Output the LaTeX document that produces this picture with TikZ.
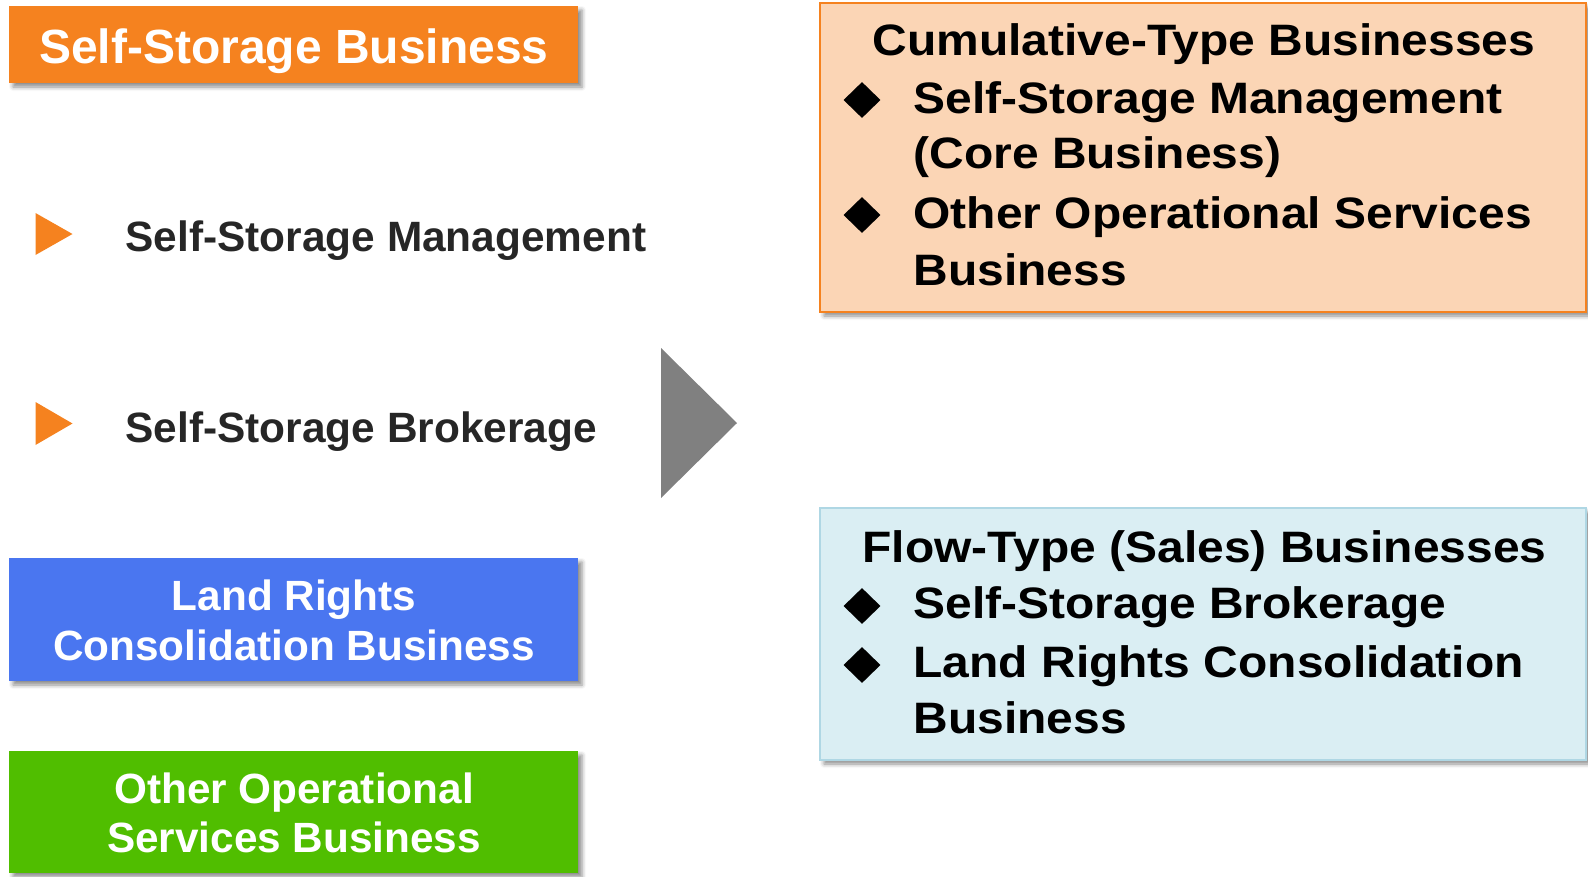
\documentclass[tikz,border=0pt]{standalone}
\usepackage{fontspec}
\setmainfont{Liberation Sans}
\newfontfamily\widefont{Liberation Sans}[FakeStretch=1.09]
\usetikzlibrary{shapes.geometric,shadows.blur}

\definecolor{segOrange}{RGB}{245,130,31}
\definecolor{segBlue}{RGB}{74,118,240}
\definecolor{segGreen}{RGB}{80,190,0}
\definecolor{peachFill}{RGB}{251,213,181}
\definecolor{iceFill}{RGB}{218,238,243}
\definecolor{iceLine}{RGB}{175,215,228}
\definecolor{darkText}{RGB}{38,38,38}
\definecolor{arrowGray}{RGB}{128,128,128}

\begin{document}
\begin{tikzpicture}[x=1pt,y=-1pt,
  shadowed/.style={blur shadow={shadow xshift=4pt,shadow yshift=-4pt,
      shadow blur radius=4pt,shadow opacity=45}},
  panel/.style={shadowed,anchor=north west,inner sep=0pt,outer sep=0pt},
  segtitle/.style={anchor=base,text=white,
      font=\bfseries\fontsize{42.3}{42.3}\selectfont},
  itemtext/.style={anchor=base west,text=darkText,
      font=\bfseries\fontsize{42.4}{42.4}\selectfont},
  groupline/.style={anchor=base west,text=black,
      font=\widefont\bfseries\fontsize{44}{44}\selectfont},
  bulletmark/.style={diamond,fill=black,inner sep=0pt,
      minimum width=37pt,minimum height=36pt}
]
\useasboundingbox (0,0) rectangle (1588,876);

% ---- business segments (left column)
\node[panel,fill=segOrange,minimum width=569pt,minimum height=77pt]
  (ssbox) at (9,6) {};
\node[anchor=base,text=white,font=\bfseries\fontsize{48}{48}\selectfont]
  (sstitle) at (294,63) {Self-Storage Business};

\fill[segOrange] (35.5,213) -- (72.5,234) -- (35.5,255) -- cycle;
\node[itemtext] (mgmt) at (122,251) {Self-Storage Management};
\fill[segOrange] (35.5,402) -- (72.5,423.5) -- (35.5,445) -- cycle;
\node[itemtext] (brok) at (122,442) {Self-Storage Brokerage};

\node[panel,fill=segBlue,minimum width=569pt,minimum height=123pt]
  (landbox) at (9,558) {};
\node[segtitle] (landA) at (294,610) {Land Rights};
\node[segtitle] (landB) at (294,660) {Consolidation Business};

\node[panel,fill=segGreen,minimum width=569pt,minimum height=122pt]
  (otherbox) at (9,751) {};
\node[segtitle] (otherA) at (294,803) {Other Operational};
\node[segtitle] (otherB) at (294,852) {Services Business};

% ---- big grey arrow head
\fill[arrowGray] (661,348) -- (737,423) -- (661,498) -- cycle;

% ---- cumulative-type group
\node[panel,fill=peachFill,draw=segOrange,line width=2pt,
  minimum width=766pt,minimum height=309pt] (cumbox) at (820,3) {};
\node[groupline] (cumT) at (869,55) {Cumulative-Type Businesses};
\node[bulletmark] (cumD1) at (862,100) {};
\node[groupline] (cum1a) at (910,113) {Self-Storage Management};
\node[groupline] (cum1b) at (910,168) {(Core Business)};
\node[bulletmark] (cumD2) at (862,215) {};
\node[groupline] (cum2a) at (910,228) {Other Operational Services};
\node[groupline] (cum2b) at (910,285) {Business};

% ---- flow-type group
\node[panel,fill=iceFill,draw=iceLine,line width=1.5pt,
  minimum width=766pt,minimum height=252pt] (flowbox) at (820,508) {};
\node[groupline] (flowT) at (859,562) {Flow-Type (Sales) Businesses};
\node[bulletmark] (flowD1) at (862,606) {};
\node[groupline] (flow1) at (910,618) {Self-Storage Brokerage};
\node[bulletmark] (flowD2) at (862,665) {};
\node[groupline] (flow2a) at (910,677) {Land Rights Consolidation};
\node[groupline] (flow2b) at (910,733) {Business};
\end{tikzpicture}
\end{document}
